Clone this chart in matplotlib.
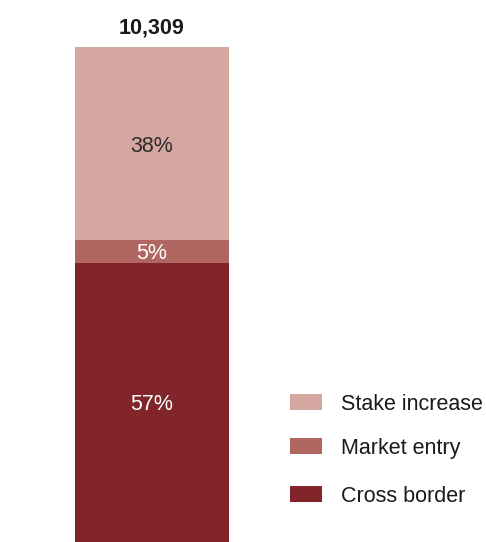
import matplotlib.pyplot as plt
from matplotlib.patches import Rectangle

plt.rcParams['font.family'] = ['Liberation Sans', 'DejaVu Sans']

# Data
categories = ['Cross border', 'Market entry', 'Stake increase']
shares = [57, 5, 38]              # labelled shares (%)
heights = [56.4, 4.6, 39.0]       # bar segment heights as drawn
colors = ['#82252a', '#b06762', '#d4a7a1']
label_colors = ['white', 'white', '#2b2b2b']
total = '10,309'

W, H = 486, 542
fig = plt.figure(figsize=(W / 100, H / 100), dpi=100)

# axes: bar top at y=47 px, bottom at figure bottom
bar_left, bar_w = 75, 154
ax = fig.add_axes([0, 0, 1, (H - 47) / H])
ax.set_xlim(-bar_left / bar_w, (W - bar_left) / bar_w)
ax.set_ylim(0, sum(heights))
ax.axis('off')

bottom = 0
for cat, val, pct, col, tc in zip(categories, heights, shares, colors, label_colors):
    ax.bar(0, val, width=1, bottom=bottom, align='edge', color=col, linewidth=0)
    ax.text(0.5, bottom + val / 2, f'{pct}%', ha='center', va='center_baseline',
            fontsize=15.5, color=tc)
    bottom += val

ax.text(0.5, sum(heights) + 2.8, total, ha='center', va='baseline', fontsize=15.5,
        fontweight='bold', color='#1a1a1a')

# Legend (drawn manually, top to bottom)
rows_y = [402, 446, 494]
for y, cat, col in zip(rows_y, categories[::-1], colors[::-1]):
    fig.patches.append(Rectangle((290 / W, 1 - (y + 8) / H), 32 / W, 16 / H,
                                 transform=fig.transFigure, color=col, linewidth=0))
    fig.text(341 / W, 1 - y / H, cat, ha='left', va='center_baseline', fontsize=15.5,
             color='#1a1a1a')

fig.savefig('out.png', dpi=100)
